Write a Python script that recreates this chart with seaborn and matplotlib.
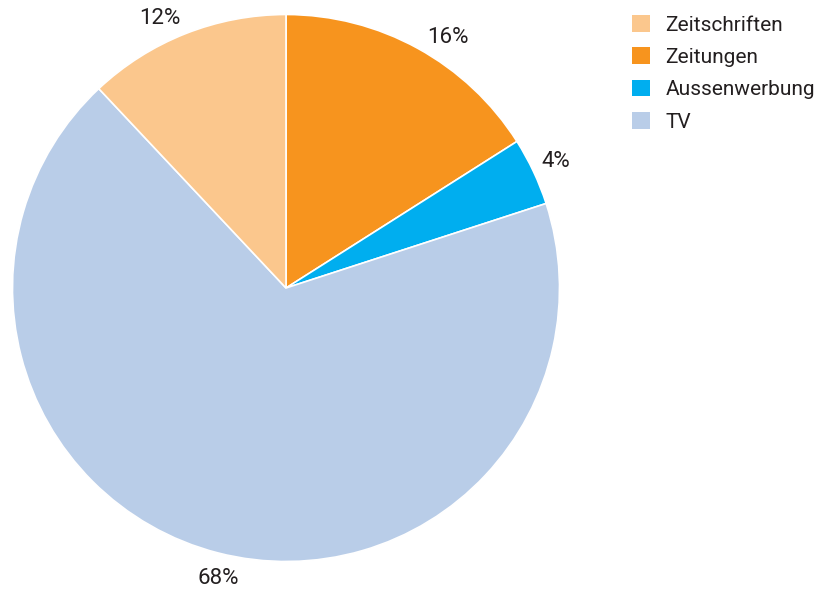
import matplotlib
matplotlib.use("Agg")
import numpy as np
import matplotlib.pyplot as plt
import seaborn as sns
from matplotlib.patches import Patch

sns.set_theme(style="white")
plt.rcParams['font.family'] = ['Roboto', 'DejaVu Sans']

# Data (legend order)
categories = ["Zeitschriften", "Zeitungen", "Aussenwerbung", "TV"]
values = [12, 16, 4, 68]
colors = ["#FBC78D", "#F7941E", "#00AEEF", "#B9CDE8"]

# Drawing order clockwise from top
draw_order = ["Zeitungen", "Aussenwerbung", "TV", "Zeitschriften"]
# small angular nudges (degrees) of the percentage labels, as in the reference
label_shift = [-4.0, 0.0, 1.2, 3.5]
idx = [categories.index(c) for c in draw_order]
d_vals = [values[i] for i in idx]
d_cols = [colors[i] for i in idx]

W, H = 814, 592
fig = plt.figure(figsize=(W / 100, H / 100), dpi=100)
cx, cy, r = 286, 288, 273.5
ax = fig.add_axes([(cx - r) / W, (H - cy - r) / H, 2 * r / W, 2 * r / H])

wedges, texts, autotexts = ax.pie(
    d_vals, colors=d_cols, startangle=90, counterclock=False, radius=1,
    autopct=lambda p: f"{p:.0f}%", pctdistance=1.09,
    wedgeprops=dict(edgecolor="white", linewidth=1.2),
    textprops=dict(fontsize=16, color="#231F20"))
for w, t, s in zip(wedges, autotexts, label_shift):
    mid = np.deg2rad((w.theta1 + w.theta2) / 2 + s)
    t.set_position((1.09 * np.cos(mid), 1.09 * np.sin(mid)))
ax.set_xlim(-1, 1)
ax.set_ylim(-1, 1)
ax.set_aspect("equal")
ax.axis("off")

handles = [Patch(facecolor=c, edgecolor="none") for c in colors]
fig.legend(handles, categories, loc="upper left",
           bbox_to_anchor=(632 / W, 1 - 15 / H), frameon=False,
           fontsize=15, labelcolor="#231F20",
           handlelength=0.85, handleheight=0.85, handletextpad=0.75,
           labelspacing=0.62, borderaxespad=0, borderpad=0)

fig.savefig("out.png", dpi=100)
